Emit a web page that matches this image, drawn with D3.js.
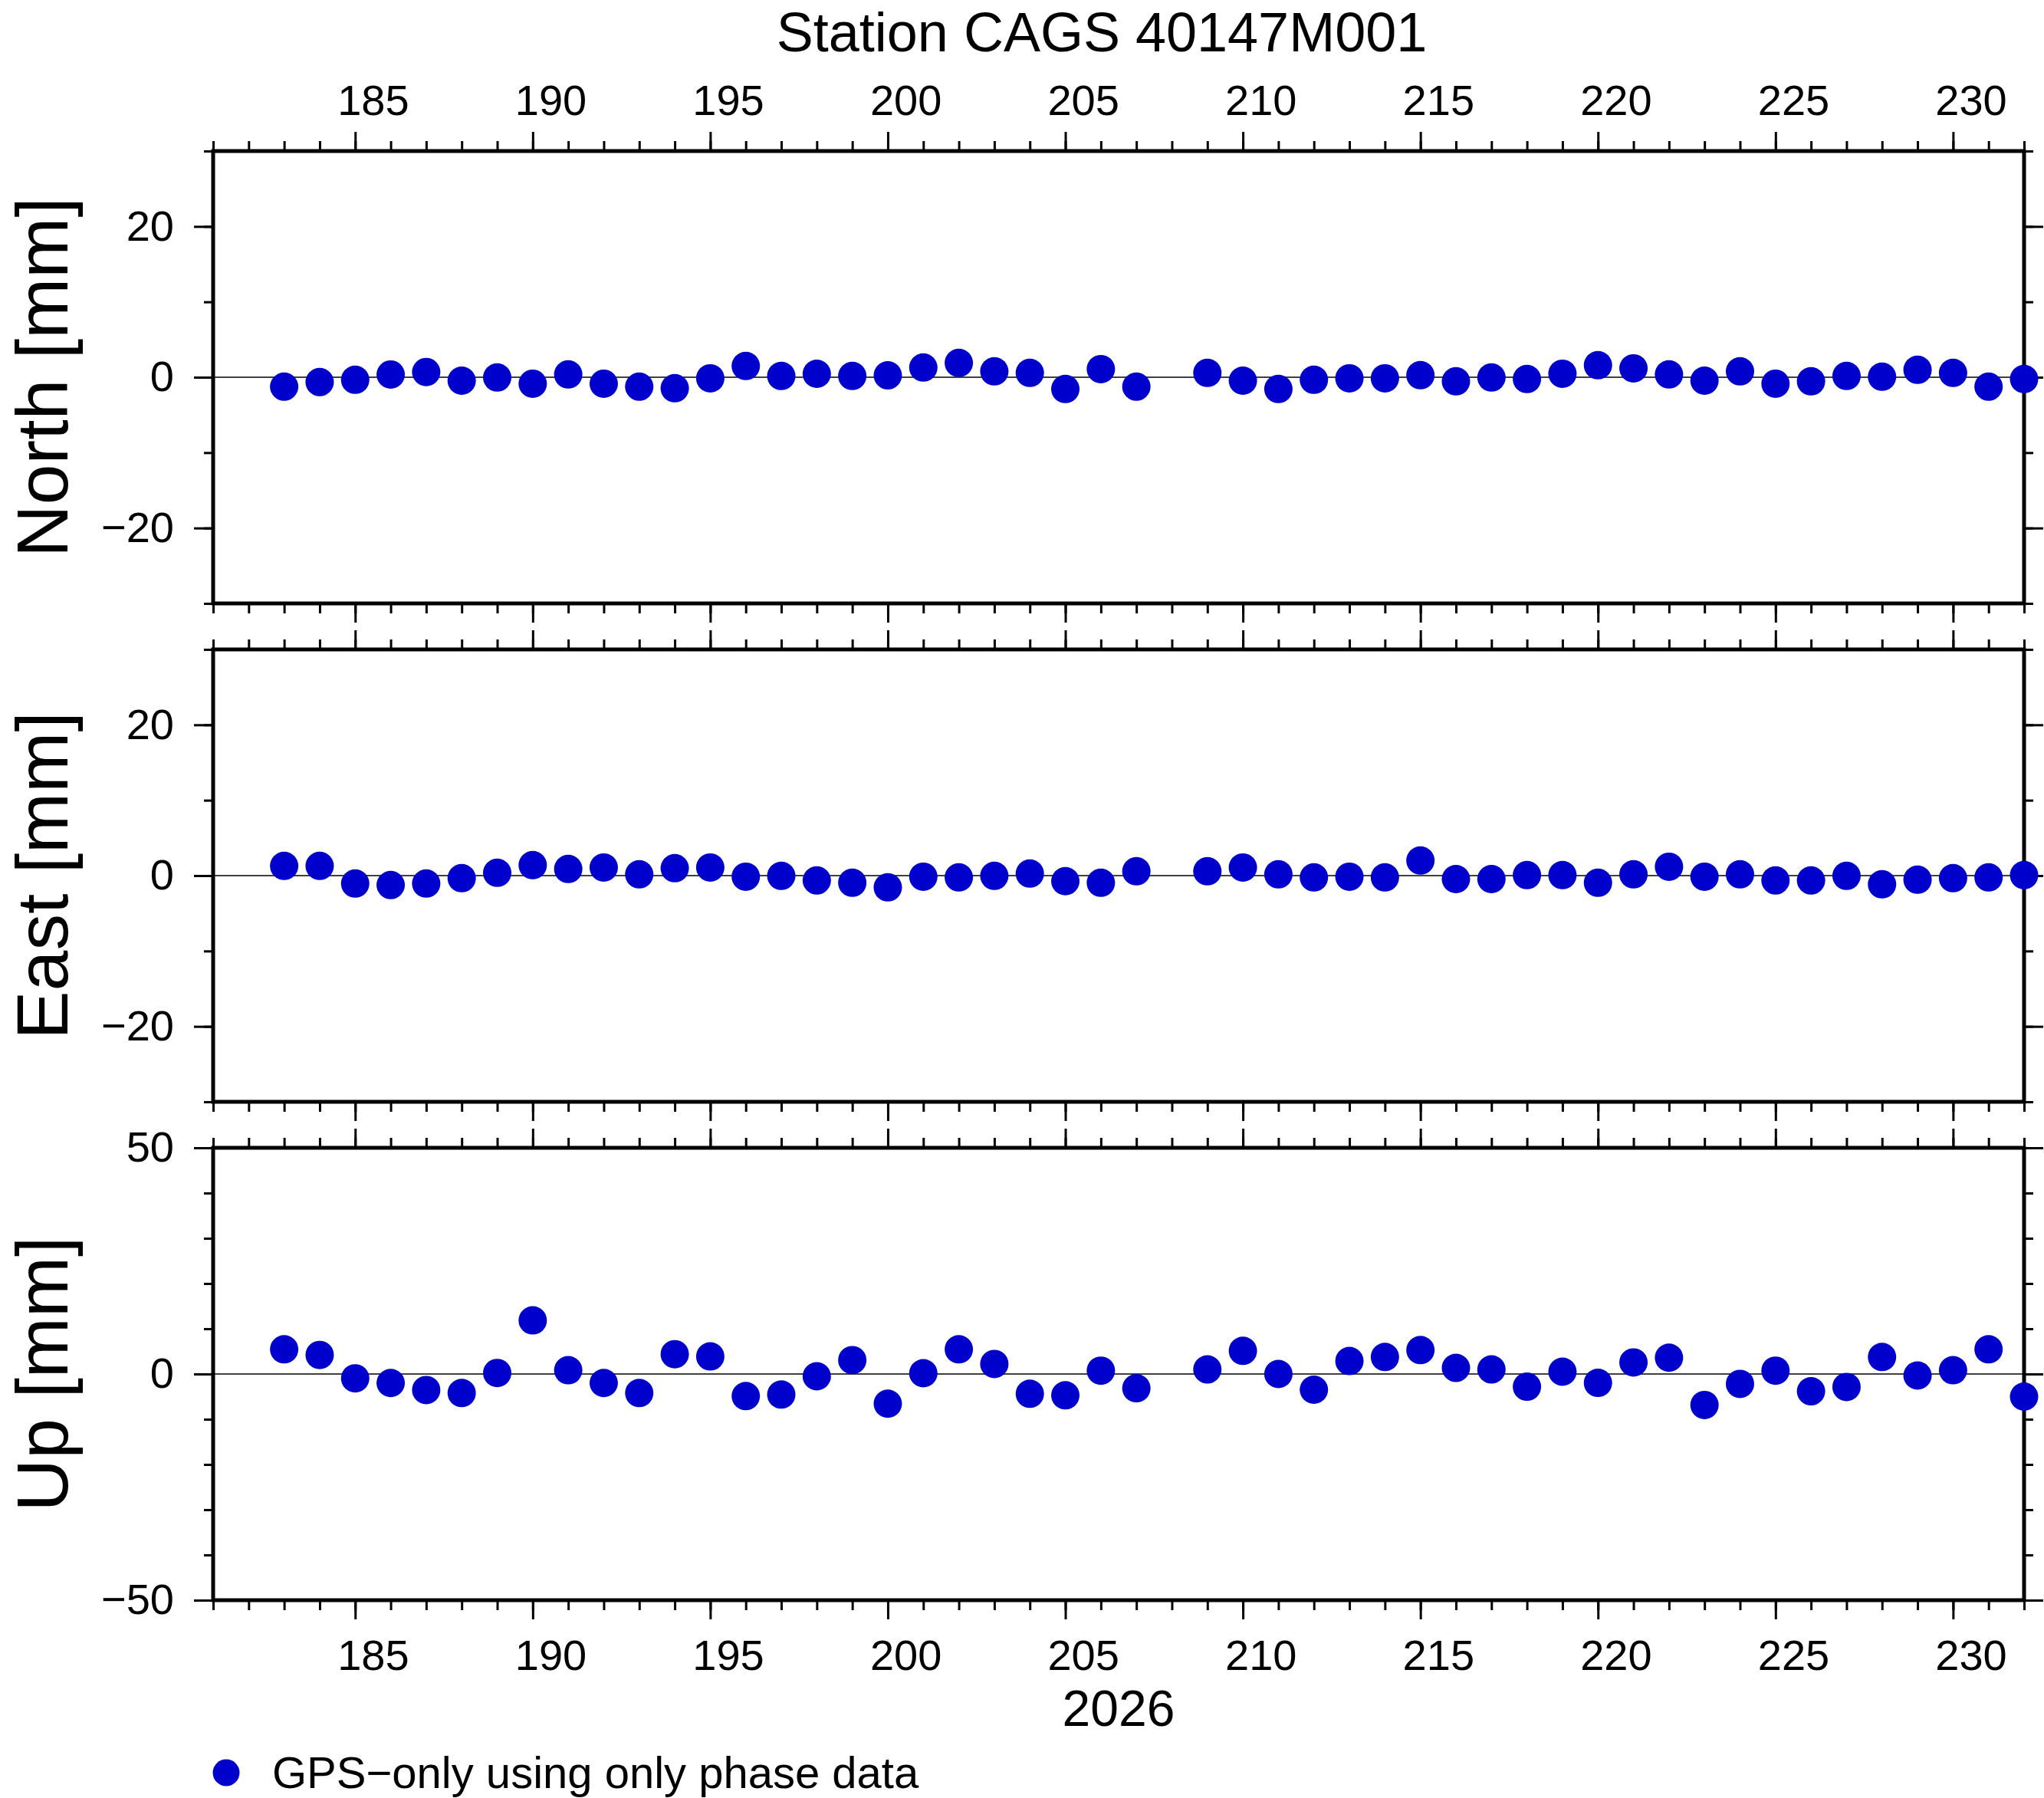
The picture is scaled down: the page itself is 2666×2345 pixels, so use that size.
<!DOCTYPE html>
<html>
<head>
<meta charset="utf-8">
<script src="https://cdn.jsdelivr.net/npm/d3@7/dist/d3.min.js"></script>
<style>
  html, body { margin: 0; padding: 0; background: #fff; }
  svg { display: block; }
  text { font-family: "Liberation Sans", Arial, Helvetica, sans-serif; fill: #000; }
</style>
</head>
<body>
<svg id="chart" width="2666" height="2345"></svg>
<script>
// ---------------- data ----------------
const title = "Station CAGS 40147M001";
const yearLabel = "2026";
const legendLabel = "GPS\u2212only using only phase data";

const days = [183,184,185,186,187,188,189,190,191,192,193,194,195,196,197,198,199,200,201,202,203,204,205,206,207,
              209,210,211,212,213,214,215,216,217,218,219,220,221,222,223,224,225,226,227,228,229,230,231,232];

const north = [-1.25,-0.64,-0.34,0.36,0.69,-0.46,-0.03,-0.86,0.37,-0.86,-1.25,-1.46,-0.14,1.49,0.17,0.46,0.17,0.25,1.29,1.90,0.78,0.58,-1.56,1.08,-1.25,
               0.58,-0.46,-1.56,-0.34,-0.14,-0.14,0.27,-0.54,-0.03,-0.24,0.47,1.59,1.18,0.37,-0.46,0.78,-0.86,-0.54,0.17,0.07,0.98,0.58,-1.25,-0.24];

const east = [1.29,1.29,-1.05,-1.25,-1.05,-0.34,0.37,1.39,0.88,1.08,0.17,0.98,1.08,-0.14,-0.03,-0.64,-0.95,-1.56,-0.14,-0.24,-0.03,0.27,-0.74,-0.95,0.58,
              0.58,1.08,0.17,-0.24,-0.14,-0.24,2.0,-0.46,-0.46,0.07,0.07,-0.95,0.17,1.18,-0.14,0.17,-0.64,-0.64,-0.03,-1.15,-0.54,-0.34,-0.24,0.07];

const up = [5.45,4.21,-0.96,-1.99,-3.54,-4.21,0.22,11.85,0.84,-1.99,-4.21,4.38,3.88,-4.89,-4.55,-0.51,3.06,-6.57,0.17,5.45,2.22,-4.38,-4.72,0.73,-3.15,
            1.01,5.11,0.0,-3.48,2.87,3.76,5.28,1.35,1.01,-2.81,0.51,-1.97,2.56,3.60,-6.85,-2.19,0.73,-3.82,-2.87,3.76,-0.34,0.84,5.45,-5.0];

const panelNames = ["North [mm]", "East [mm]", "Up [mm]"];
const panelSeries = [north, east, up];
const panelDomains = [[-30, 30], [-30, 30], [-50, 50]];
const panelMajorY = [[-20, 0, 20], [-20, 0, 20], [-50, 0, 50]];
const panelMinorY = [[-30,-20,-10,0,10,20,30], [-30,-20,-10,0,10,20,30], [-50,-40,-30,-20,-10,0,10,20,30,40,50]];

const xDomain = [181, 232];
const xMajor = [185,190,195,200,205,210,215,220,225,230];
const xMinor = d3.range(181, 233);

// ---------------- layout ----------------
const W = 2666, H = 2345;
const left = 278, right = 2640;
const panelTops = [197, 847, 1497];
const panelH = 590;
const dotColor = "#0000cc";

const svg = d3.select("#chart");
svg.append("rect").attr("width", W).attr("height", H).attr("fill", "#fff");

const x = d3.scaleLinear().domain(xDomain).range([left, right]);

function styleAxis(g, width) {
  g.select(".domain").remove();
  g.selectAll(".tick line").attr("stroke", "#000").attr("stroke-width", width);
}

panelTops.forEach((top, i) => {
  const y = d3.scaleLinear().domain(panelDomains[i]).range([top + panelH, top]);
  const g = svg.append("g");

  // zero line
  g.append("line")
    .attr("x1", left).attr("x2", right)
    .attr("y1", y(0)).attr("y2", y(0))
    .attr("stroke", "#000").attr("stroke-width", 1.3);

  // x ticks top and bottom
  [["top", top], ["bottom", top + panelH]].forEach(([side, yy]) => {
    const mk = side === "top" ? d3.axisTop : d3.axisBottom;
    g.append("g").attr("transform", `translate(0,${yy})`)
      .call(mk(x).tickValues(xMinor).tickSize(13).tickFormat(""))
      .call(a => styleAxis(a, 3));
    g.append("g").attr("transform", `translate(0,${yy})`)
      .call(mk(x).tickValues(xMajor).tickSize(25).tickFormat(""))
      .call(a => styleAxis(a, 3));
  });

  // y ticks left and right
  g.append("g").attr("transform", `translate(${left},0)`)
    .call(d3.axisLeft(y).tickValues(panelMinorY[i]).tickSize(12).tickFormat(""))
    .call(a => styleAxis(a, 3));
  g.append("g").attr("transform", `translate(${left},0)`)
    .call(d3.axisLeft(y).tickValues(panelMajorY[i]).tickSize(25).tickPadding(26).tickFormat(d3.format("d")))
    .call(a => styleAxis(a, 3))
    .call(a => a.selectAll("text").attr("font-size", 56).attr("font-family", "Liberation Sans, Arial, sans-serif").attr("fill", "#000"));
  g.append("g").attr("transform", `translate(${right},0)`)
    .call(d3.axisRight(y).tickValues(panelMinorY[i]).tickSize(12).tickFormat(""))
    .call(a => styleAxis(a, 3));
  g.append("g").attr("transform", `translate(${right},0)`)
    .call(d3.axisRight(y).tickValues(panelMajorY[i]).tickSize(25).tickFormat(""))
    .call(a => styleAxis(a, 3));

  // frame
  g.append("rect")
    .attr("x", left).attr("y", top)
    .attr("width", right - left).attr("height", panelH)
    .attr("fill", "none").attr("stroke", "#000").attr("stroke-width", 5);

  // y label
  g.append("text")
    .attr("transform", `translate(88,${(y.range()[0] + y.range()[1]) / 2}) rotate(-90)`)
    .attr("text-anchor", "middle")
    .attr("font-size", 95)
    .text(panelNames[i]);

  // dots
  g.selectAll("circle.pt")
    .data(days.map((d, k) => ({ day: d, v: panelSeries[i][k] })))
    .join("circle")
    .attr("class", "pt")
    .attr("cx", d => x(d.day))
    .attr("cy", d => y(d.v))
    .attr("r", 18.5)
    .attr("fill", dotColor);
});

// x labels (centered on the day interval)
const labelVals = xMajor.map(d => d + 0.5);
svg.append("g").attr("transform", `translate(0,${panelTops[0]})`)
  .call(d3.axisTop(x).tickValues(labelVals).tickSize(0).tickPadding(47).tickFormat(d => Math.floor(d)))
  .call(a => a.select(".domain").remove())
  .call(a => a.selectAll("text").attr("font-size", 56).attr("font-family", "Liberation Sans, Arial, sans-serif").attr("fill", "#000"));
svg.append("g").attr("transform", `translate(0,${panelTops[2] + panelH})`)
  .call(d3.axisBottom(x).tickValues(labelVals).tickSize(0).tickPadding(51).tickFormat(d => Math.floor(d)))
  .call(a => a.select(".domain").remove())
  .call(a => a.selectAll("text").attr("font-size", 56).attr("font-family", "Liberation Sans, Arial, sans-serif").attr("fill", "#000"));

// year label
svg.append("text")
  .attr("x", (left + right) / 2).attr("y", 2251)
  .attr("text-anchor", "middle").attr("font-size", 66)
  .text(yearLabel);

// title
svg.append("text")
  .attr("x", 1437).attr("y", 67)
  .attr("text-anchor", "middle").attr("font-size", 72)
  .text(title);

// legend
svg.append("circle").attr("cx", 295).attr("cy", 2312).attr("r", 17.5).attr("fill", dotColor);
svg.append("text").attr("x", 355).attr("y", 2332).attr("font-size", 58).text(legendLabel);
</script>
</body>
</html>
